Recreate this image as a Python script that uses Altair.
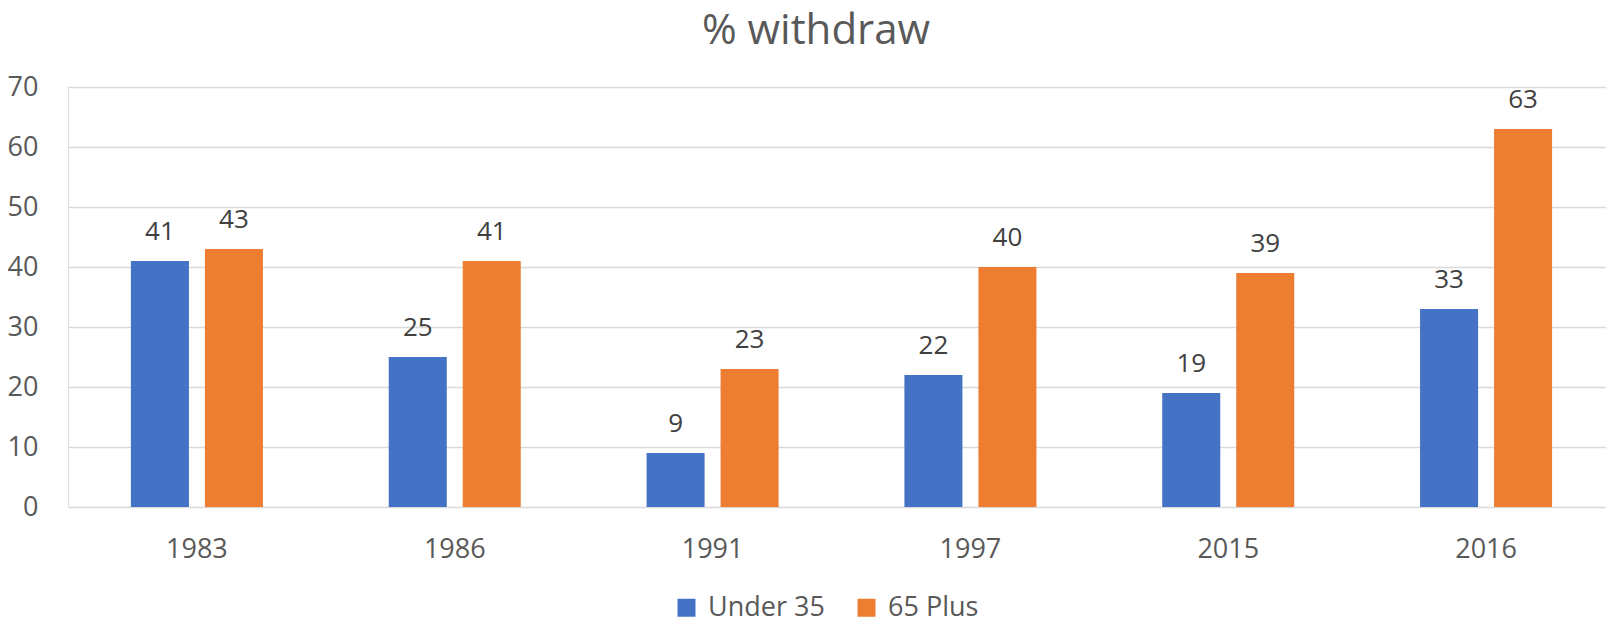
import altair as alt
import pandas as pd

years = ["1983", "1986", "1991", "1997", "2015", "2016"]
series = ["Under 35", "65 Plus"]
under35 = [41, 25, 9, 22, 19, 33]
plus65 = [43, 41, 23, 40, 39, 63]
y_ticks = [0, 10, 20, 30, 40, 50, 60, 70]
colors = ["#4472C4", "#ED7D31"]

rows = []
for i, yr in enumerate(years):
    rows.append({"Year": yr, "Series": series[0], "Value": under35[i]})
    rows.append({"Year": yr, "Series": series[1], "Value": plus65[i]})
df = pd.DataFrame(rows)

FONT = "Open Sans"

x_enc = alt.X(
    "Year:N",
    sort=years,
    scale=alt.Scale(paddingInner=0, paddingOuter=0, range=[0, 1547]),
    axis=alt.Axis(
        title=None, domain=False, ticks=False, labelAngle=0,
        labelFontSize=27, labelColor="#595959", labelFont=FONT,
        labelPadding=29, grid=False,
    ),
)
xoff_enc = alt.XOffset(
    "Series:N", sort=series,
    scale=alt.Scale(domain=series, paddingInner=0.216, paddingOuter=0.85),
)
y_enc = alt.Y(
    "Value:Q",
    scale=alt.Scale(domain=[0, 70], nice=False),
    axis=alt.Axis(
        title=None, values=y_ticks, domain=False, ticks=False,
        labelFontSize=27, labelColor="#595959", labelFont=FONT,
        labelPadding=30, gridColor="#D9D9D9", gridWidth=1.5,
    ),
)

bars = alt.Chart(df).mark_bar().encode(
    x=x_enc,
    xOffset=xoff_enc,
    y=y_enc,
    color=alt.Color(
        "Series:N", sort=series,
        scale=alt.Scale(domain=series, range=colors),
        legend=alt.Legend(
            title=None, orient="none", direction="horizontal",
            legendX=605, legendY=507, symbolType="square", symbolSize=324,
            symbolStrokeWidth=0, labelFontSize=27, labelColor="#595959",
            labelFont=FONT, labelOffset=8, columnPadding=28, padding=0,
        ),
    ),
)

labels = alt.Chart(df).mark_text(
    baseline="alphabetic", dy=-21, fontSize=26, color="#404040", font=FONT
).encode(
    x=alt.X("Year:N", sort=years),
    xOffset=alt.XOffset("Series:N", sort=series),
    y="Value:Q",
    text="Value:Q",
)

chart = (
    alt.layer(bars, labels)
    .properties(
        width=1538,
        height=420,
        autosize=alt.AutoSizeParams(type="none"),
        padding={"left": 60, "top": 79, "right": 0, "bottom": 112},
        title=alt.TitleParams(
            "% withdraw", fontSize=42, color="#595959", font=FONT,
            fontWeight="normal", anchor="middle", dx=-21, dy=50, offset=37,
            baseline="alphabetic",
        ),
    )
    .configure_view(stroke=None)
    .configure(background="white")
)

chart.save("out.html", embed_options={"renderer": "svg", "actions": False})
